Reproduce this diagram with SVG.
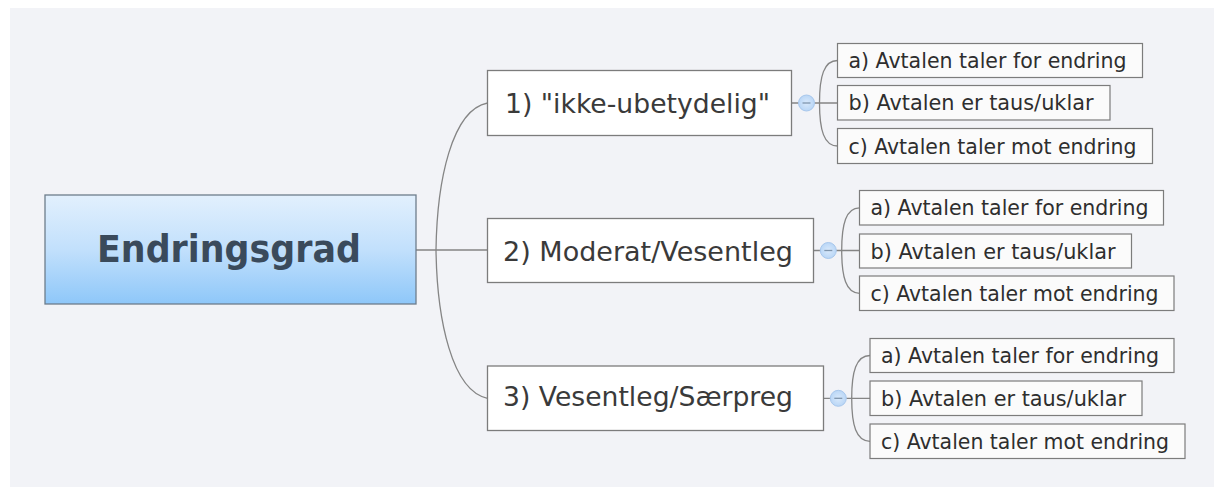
<svg xmlns="http://www.w3.org/2000/svg" width="1214" height="487" viewBox="0 0 1214 487">
  <defs>
    <linearGradient id="rootFill" x1="0" y1="0" x2="0" y2="1">
      <stop offset="0" stop-color="#e2f0fd"/>
      <stop offset="0.5" stop-color="#c2e0fc"/>
      <stop offset="1" stop-color="#8ec7f9"/>
    </linearGradient>
    <radialGradient id="knobFill" cx="0.5" cy="0.5" r="0.5">
      <stop offset="0" stop-color="#d9e9fb"/>
      <stop offset="1" stop-color="#b9d6f6"/>
    </radialGradient>
    <style>
      .root-box { fill: url(#rootFill); stroke: #6d7d8c; stroke-width: 1.3; }
      .root-text { font-family: "DejaVu Sans", "Liberation Sans", sans-serif; font-weight: bold; font-size: 37px; fill: #3a4a5b; }
      .topic-box { fill: #ffffff; stroke: #7c7c7c; stroke-width: 1.3; }
      .topic-text { font-family: "DejaVu Sans", "Liberation Sans", sans-serif; font-size: 27px; fill: #3a3a3a; }
      .sub-box { fill: #fbfbfb; stroke: #7c7c7c; stroke-width: 1.2; }
      .sub-text { font-family: "DejaVu Sans", "Liberation Sans", sans-serif; font-size: 21px; fill: #2e2e2e; }
      .link { fill: none; stroke: #858585; stroke-width: 1.3; }
      .knob { fill: url(#knobFill); stroke: #a8c7ec; stroke-width: 1; }
      .knob-dash { stroke: #7f95ad; stroke-width: 1.3; }
    </style>
  </defs>

  <!-- canvas -->
  <rect x="0" y="0" width="1214" height="487" fill="#ffffff"/>
  <rect x="10" y="8" width="1204" height="479" fill="#f2f3f7"/>

  <!-- connectors -->
  <g id="connectors">
    <!-- root to main topics -->
    <path class="link" d="M416,250 H487.5"/>
    <path class="link" d="M436,250 C437,180 452,110 487.5,103"/>
    <path class="link" d="M436,250 C437,320 452,391 487.5,398.3"/>

    <!-- topic 1 to its subtopics -->
    <path class="link" d="M792,103 H837.5"/>
    <path class="link" d="M819.5,103 C819.5,76 824,60.5 837.5,60.5"/>
    <path class="link" d="M819.5,103 C819.5,130 824,146 837.5,146"/>

    <!-- topic 2 to its subtopics -->
    <path class="link" d="M813.5,250.5 H859.5"/>
    <path class="link" d="M841.7,250.5 C841.7,224 846,207.8 859.5,207.8"/>
    <path class="link" d="M841.7,250.5 C841.7,277 846,293.3 859.5,293.3"/>

    <!-- topic 3 to its subtopics -->
    <path class="link" d="M823.5,398.3 H870"/>
    <path class="link" d="M851.7,398.3 C851.7,372 856,355.5 870,355.5"/>
    <path class="link" d="M851.7,398.3 C851.7,425 856,441.3 870,441.3"/>

    <!-- collapse knobs -->
    <circle class="knob" cx="806.5" cy="103" r="8"/>
    <line class="knob-dash" x1="802.5" y1="103" x2="810.5" y2="103"/>
    <circle class="knob" cx="828.3" cy="250.5" r="8"/>
    <line class="knob-dash" x1="824.3" y1="250.5" x2="832.3" y2="250.5"/>
    <circle class="knob" cx="838.3" cy="398.3" r="8"/>
    <line class="knob-dash" x1="834.3" y1="398.3" x2="842.3" y2="398.3"/>
  </g>

  <!-- central topic -->
  <g id="root">
    <rect class="root-box" x="45" y="195" width="371" height="109"/>
    <text class="root-text" x="97" y="262" textLength="264" lengthAdjust="spacingAndGlyphs">Endringsgrad</text>
  </g>

  <!-- main topics -->
  <g id="topic-1">
    <rect class="topic-box" x="487.5" y="70.5" width="304" height="65"/>
    <text class="topic-text" x="505" y="112.5" textLength="265" lengthAdjust="spacingAndGlyphs">1) "ikke-ubetydelig"</text>
  </g>
  <g id="topic-2">
    <rect class="topic-box" x="487.5" y="218.5" width="326" height="64"/>
    <text class="topic-text" x="503" y="261" textLength="290" lengthAdjust="spacingAndGlyphs">2) Moderat/Vesentleg</text>
  </g>
  <g id="topic-3">
    <rect class="topic-box" x="487.5" y="366" width="336" height="64.5"/>
    <text class="topic-text" x="503" y="406" textLength="290" lengthAdjust="spacingAndGlyphs">3) Vesentleg/Særpreg</text>
  </g>

  <!-- subtopics of topic 1 -->
  <g id="topic-1a">
    <rect class="sub-box" x="837.5" y="43.5" width="305" height="34"/>
    <text class="sub-text" x="848.5" y="67.5" textLength="278" lengthAdjust="spacingAndGlyphs">a) Avtalen taler for endring</text>
  </g>
  <g id="topic-1b">
    <rect class="sub-box" x="837.5" y="85.5" width="272.5" height="34.5"/>
    <text class="sub-text" x="848.5" y="110" textLength="245" lengthAdjust="spacingAndGlyphs">b) Avtalen er taus/uklar</text>
  </g>
  <g id="topic-1c">
    <rect class="sub-box" x="837.5" y="128.5" width="315" height="35"/>
    <text class="sub-text" x="848.5" y="153.5" textLength="288" lengthAdjust="spacingAndGlyphs">c) Avtalen taler mot endring</text>
  </g>

  <!-- subtopics of topic 2 -->
  <g id="topic-2a">
    <rect class="sub-box" x="859.5" y="190.5" width="304" height="34.5"/>
    <text class="sub-text" x="870.5" y="215" textLength="278" lengthAdjust="spacingAndGlyphs">a) Avtalen taler for endring</text>
  </g>
  <g id="topic-2b">
    <rect class="sub-box" x="859.5" y="234" width="272" height="34"/>
    <text class="sub-text" x="870.5" y="258.5" textLength="245" lengthAdjust="spacingAndGlyphs">b) Avtalen er taus/uklar</text>
  </g>
  <g id="topic-2c">
    <rect class="sub-box" x="859.5" y="276" width="314.5" height="34.5"/>
    <text class="sub-text" x="870.5" y="300.5" textLength="288" lengthAdjust="spacingAndGlyphs">c) Avtalen taler mot endring</text>
  </g>

  <!-- subtopics of topic 3 -->
  <g id="topic-3a">
    <rect class="sub-box" x="870" y="338.5" width="304" height="34"/>
    <text class="sub-text" x="881" y="363" textLength="278" lengthAdjust="spacingAndGlyphs">a) Avtalen taler for endring</text>
  </g>
  <g id="topic-3b">
    <rect class="sub-box" x="870" y="381" width="272" height="34.5"/>
    <text class="sub-text" x="881" y="405.5" textLength="245" lengthAdjust="spacingAndGlyphs">b) Avtalen er taus/uklar</text>
  </g>
  <g id="topic-3c">
    <rect class="sub-box" x="870" y="424" width="315" height="34.5"/>
    <text class="sub-text" x="881" y="448.5" textLength="288" lengthAdjust="spacingAndGlyphs">c) Avtalen taler mot endring</text>
  </g>
</svg>
